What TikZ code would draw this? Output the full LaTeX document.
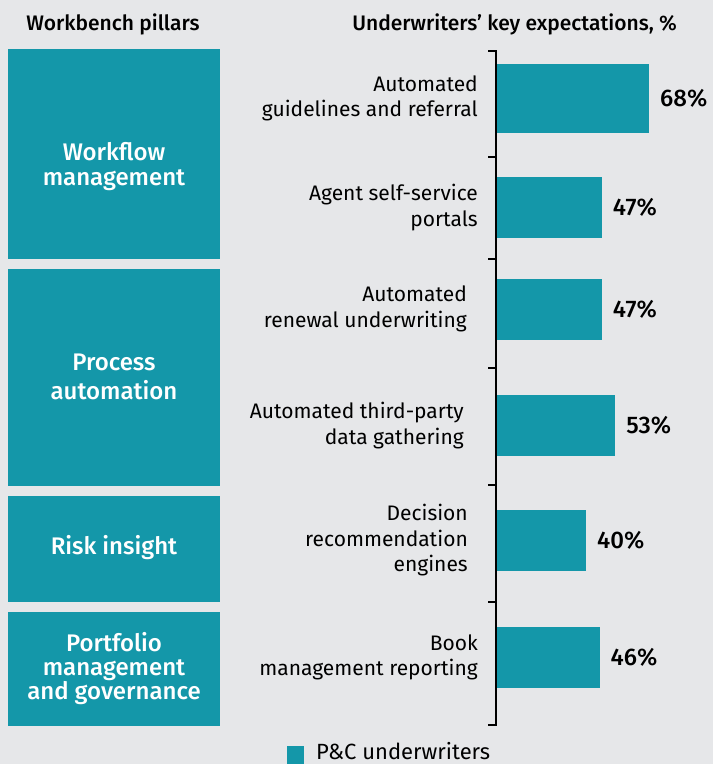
\documentclass[tikz,border=0pt]{standalone}
\usepackage{fontspec}
\setmainfont{Fira Sans}
\newfontfamily\medfont{Fira Sans Medium}
\usetikzlibrary{positioning}
\definecolor{barteal}{HTML}{1497A9}
\definecolor{bggray}{HTML}{E6E7E9}

\begin{document}
\begin{tikzpicture}[x=1pt,y=-1pt,
    pillar/.style={fill=barteal},
    pillartext/.style={text=white,align=center,font=\fontsize{24}{24}\selectfont\medfont},
    catlabel/.style={anchor=east,align=right,inner sep=0pt,font=\fontsize{21}{25.5}\selectfont},
    pct/.style={anchor=west,inner sep=0pt,font=\fontsize{24}{24}\selectfont\medfont},
    header/.style={inner sep=0pt,font=\fontsize{21}{24}\selectfont\medfont}]
      \fill[bggray] (0,0) rectangle (713,764);
      \useasboundingbox (0,0) rectangle (713,764);

      \node[header] (hpillars) at (113,24) {Workbench pillars};
      \node[header,anchor=east] (hexpect) at (677,24) {Underwriters’ key expectations, \%};

      % pillars
      \fill[pillar] (8,49) rectangle (220,259);
      \fill[pillar] (8,269) rectangle (220,486);
      \fill[pillar] (8,496) rectangle (220,602);
      \fill[pillar] (8,612) rectangle (220,726);
      \node[pillartext] (workflow) at (114,167) {Workflow\\[1pt]management};
      \node[pillartext] (process) at (114,377) {Process\\[5pt]automation};
      \node[pillartext] (risk) at (114,548) {Risk insight};
      \node[pillartext] (portfolio) at (114,669) {Portfolio\\management\\and governance};

      % bars
      \foreach \i/\top/\h/\v in {1/64/69/68, 2/177/61/47, 3/279/61/47, 4/395/61/53, 5/510/61/40, 6/627/61/46} {
        \fill[barteal] (496,\top) rectangle ++(2.25*\v,\h);
        \node[pct] (val\i) at (496+2.25*\v+11,\top+\h/2) {\v\%};
      }

      % axis
      \draw[line width=1.6pt] (488,51) -- (496,51) -- (496,725) -- (488,725);
      \foreach \t in {157,259,368,485,602}
        \draw[line width=1.6pt] (488,\t) -- (496,\t);

      % categories
      \node[catlabel] (cat1) at (478,98.5) {Automated\\guidelines and referral};
      \node[catlabel] (cat2) at (478,207.5) {Agent self-service\\portals};
      \node[catlabel] (cat3) at (467,309) {Automated\\renewal underwriting};
      \node[catlabel] (cat4) at (464,425.5) {Automated third-party\\data gathering};
      \node[catlabel] (cat5) at (468,540.5) {Decision\\recommendation\\engines};
      \node[catlabel] (cat6) at (478,657.5) {Book\\management reporting};

      % legend
      \fill[barteal] (287,746) rectangle (304,764);
      \node[anchor=base west,inner sep=0pt,font=\fontsize{22}{24}\selectfont] (legend) at (316,759) {P\&C underwriters};
    \end{tikzpicture}
\end{document}
